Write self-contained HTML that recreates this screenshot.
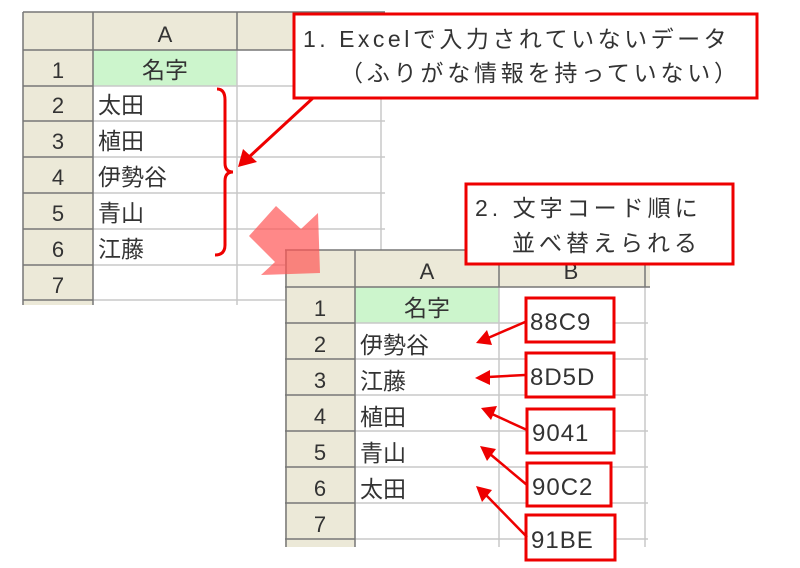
<!DOCTYPE html>
<html><head><meta charset="utf-8"><style>
html,body{margin:0;padding:0;background:#fff;width:800px;height:568px;overflow:hidden}
text{font-family:"Liberation Sans","Noto Sans CJK JP",sans-serif;fill:#333}
</style></head><body>
<svg width="800" height="568" viewBox="0 0 800 568" xmlns="http://www.w3.org/2000/svg">
<g>
<rect x="23" y="12" width="362" height="38" fill="#ECE9D8"/>
<rect x="23" y="12" width="70" height="293" fill="#ECE9D8"/>
<rect x="93" y="50" width="144" height="36" fill="#CCF5CC"/>
<g stroke="#c8c8c8" stroke-width="1.5">
<line x1="93" y1="86" x2="385" y2="86"/><line x1="93" y1="121" x2="385" y2="121"/><line x1="93" y1="157" x2="385" y2="157"/><line x1="93" y1="193" x2="385" y2="193"/><line x1="93" y1="229" x2="385" y2="229"/><line x1="93" y1="265" x2="385" y2="265"/><line x1="93" y1="300" x2="385" y2="300"/>
<line x1="237" y1="50" x2="237" y2="305"/><line x1="381" y1="12" x2="381" y2="305"/>
</g>
<g stroke="#777" stroke-width="1.5">
<line x1="23" y1="12" x2="385" y2="12"/><line x1="23" y1="50" x2="385" y2="50"/>
<line x1="23" y1="12" x2="23" y2="305"/><line x1="93" y1="12" x2="93" y2="305"/><line x1="237" y1="12" x2="237" y2="50"/>
<line x1="23" y1="86" x2="93" y2="86"/><line x1="23" y1="121" x2="93" y2="121"/><line x1="23" y1="157" x2="93" y2="157"/><line x1="23" y1="193" x2="93" y2="193"/><line x1="23" y1="229" x2="93" y2="229"/><line x1="23" y1="265" x2="93" y2="265"/><line x1="23" y1="300" x2="93" y2="300"/>
</g>
<g font-size="22" text-anchor="middle">
<text x="165" y="42">A</text>
<text x="58" y="78">1</text><text x="58" y="113">2</text><text x="58" y="149">3</text><text x="58" y="185">4</text><text x="58" y="221">5</text><text x="58" y="257">6</text><text x="58" y="293">7</text>
<text x="165" y="78" font-size="23">名字</text>
</g>
<g font-size="23">
<text x="98" y="113">太田</text><text x="98" y="149">植田</text><text x="98" y="185">伊勢谷</text><text x="98" y="221">青山</text><text x="98" y="257">江藤</text>
</g>
</g>
<path d="M217,89 Q225,89 225,100 L225,163 Q225,172 233,172 Q225,172 225,181 L225,245 Q225,255 215,255" fill="none" stroke="#e00" stroke-width="3"/>
<line x1="313" y1="98" x2="248" y2="158" stroke="#e00" stroke-width="3"/>
<polygon points="238,167 243,149 257,162" fill="#e00"/>
<rect x="294" y="14" width="463" height="84" fill="#fff" stroke="#e00" stroke-width="3"/>
<text x="303" y="47" font-size="23" letter-spacing="3.5">1. Excelで入力されていないデータ</text>
<text x="340" y="81" font-size="23" letter-spacing="3.8">（ふりがな情報を持っていない）</text>
<g>
<rect x="285" y="250" width="365" height="37" fill="#ECE9D8"/>
<rect x="285" y="250" width="70" height="297" fill="#ECE9D8"/>
<rect x="355" y="287" width="144" height="36" fill="#CCF5CC"/>
<g stroke="#c8c8c8" stroke-width="1.5">
<line x1="355" y1="323" x2="648" y2="323"/><line x1="355" y1="359" x2="648" y2="359"/><line x1="355" y1="395" x2="648" y2="395"/><line x1="355" y1="431" x2="648" y2="431"/><line x1="355" y1="467" x2="648" y2="467"/><line x1="355" y1="503" x2="648" y2="503"/><line x1="355" y1="539" x2="648" y2="539"/>
<line x1="499" y1="287" x2="499" y2="547"/><line x1="645" y1="287" x2="645" y2="547"/>
</g>
<g stroke="#777" stroke-width="1.5">
<line x1="285" y1="250" x2="650" y2="250"/><line x1="285" y1="287" x2="650" y2="287"/>
<line x1="286" y1="250" x2="286" y2="547"/><line x1="355" y1="250" x2="355" y2="547"/><line x1="499" y1="250" x2="499" y2="287"/><line x1="645" y1="250" x2="645" y2="287"/>
<line x1="285" y1="323" x2="355" y2="323"/><line x1="285" y1="359" x2="355" y2="359"/><line x1="285" y1="395" x2="355" y2="395"/><line x1="285" y1="431" x2="355" y2="431"/><line x1="285" y1="467" x2="355" y2="467"/><line x1="285" y1="503" x2="355" y2="503"/><line x1="285" y1="539" x2="355" y2="539"/>
</g>
<g font-size="22" text-anchor="middle">
<text x="427" y="279">A</text><text x="571" y="279">B</text>
<text x="320" y="316">1</text><text x="320" y="352">2</text><text x="320" y="388">3</text><text x="320" y="424">4</text><text x="320" y="460">5</text><text x="320" y="496">6</text><text x="320" y="532">7</text>
<text x="427" y="316" font-size="23">名字</text>
</g>
<g font-size="23">
<text x="360" y="353">伊勢谷</text><text x="360" y="389">江藤</text><text x="360" y="425">植田</text><text x="360" y="461">青山</text><text x="360" y="497">太田</text>
</g>
</g>
<polygon points="249,236 276,206 301,229 318,213 320,273 261,275 275,262" fill="#f55" opacity="0.7"/>
<rect x="466" y="184" width="267" height="80" fill="#fff" stroke="#e00" stroke-width="3"/>
<text x="475" y="216" font-size="23" letter-spacing="4">2. 文字コード順に</text>
<text x="512" y="251" font-size="23" letter-spacing="4">並べ替えられる</text>
<g fill="#fff" stroke="#e00" stroke-width="3">
<rect x="526" y="298" width="88" height="44"/><rect x="526" y="353" width="88" height="44"/><rect x="527" y="409" width="87" height="44"/><rect x="527" y="463" width="84" height="43"/><rect x="526" y="515" width="89" height="45"/>
</g>
<g font-size="24" letter-spacing="1">
<text x="530" y="330">88C9</text><text x="530" y="385">8D5D</text><text x="532" y="441">9041</text><text x="532" y="495">90C2</text><text x="531" y="548">91BE</text>
</g>
<g stroke="#e00" stroke-width="2.5">
<line x1="525" y1="322" x2="488" y2="338"/><line x1="525" y1="375" x2="488" y2="377"/><line x1="527" y1="430" x2="492" y2="414"/><line x1="527" y1="485" x2="490" y2="454"/><line x1="527" y1="537" x2="486" y2="495"/>
</g>
<g fill="#e00">
<polygon points="476,343 487,330 492,345"/>
<polygon points="475,378 490,370 490,385"/>
<polygon points="481,408 497,406 491,420"/>
<polygon points="480,446 496,449 487,461"/>
<polygon points="476,486 492,490 482,502"/>
</g>
</svg>
</body></html>
